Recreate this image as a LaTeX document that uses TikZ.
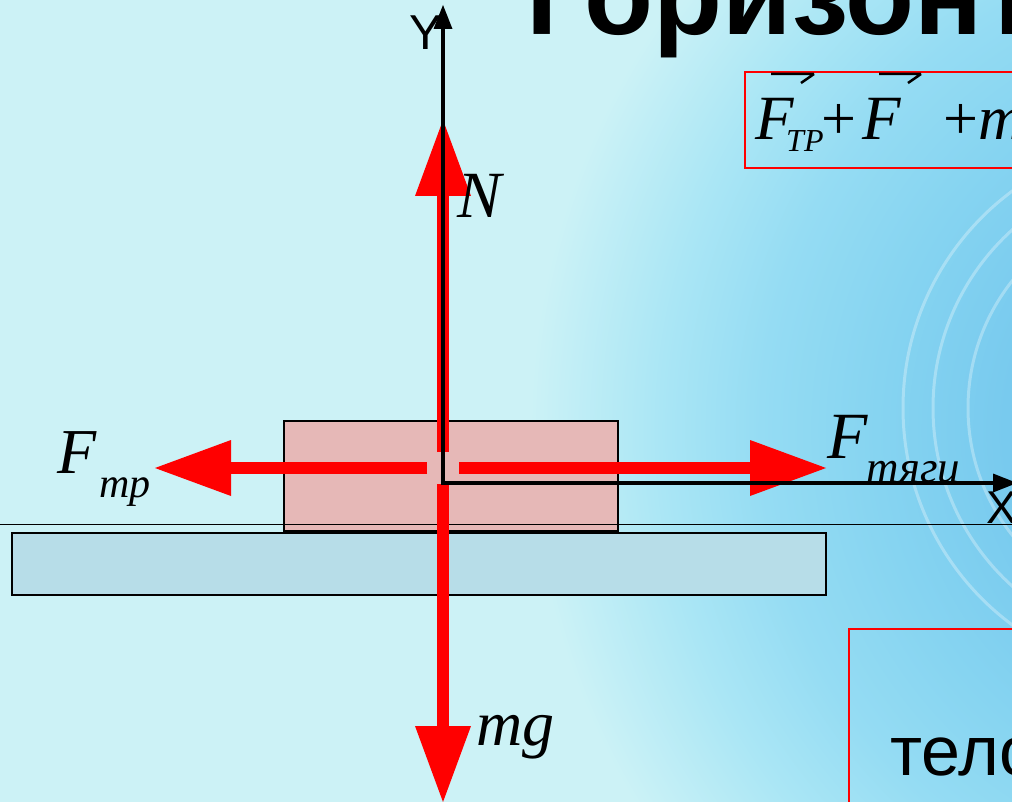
\documentclass[tikz,border=0pt]{standalone}
\usepackage{fontspec}
\setmainfont{Liberation Serif}
\newfontfamily\sansf{Liberation Sans}
\usetikzlibrary{arrows.meta}
\definecolor{bgbase}{HTML}{CCF2F6}
\definecolor{bgA}{HTML}{66BDE8}
\definecolor{bgB}{HTML}{78CAEE}
\definecolor{bgC}{HTML}{86D4F1}
\definecolor{bgD}{HTML}{95DCF3}
\definecolor{bgE}{HTML}{AAE6F5}
\definecolor{blockpink}{HTML}{E6B8B7}
\definecolor{slabblue}{HTML}{B7DDE8}
\pgfdeclareradialshading{blob}{\pgfpoint{0bp}{0bp}}{color(0bp)=(bgA); color(8.5bp)=(bgB); color(13bp)=(bgC); color(17bp)=(bgD); color(20.5bp)=(bgE); color(25bp)=(bgbase); color(50bp)=(bgbase)}
\tikzset{
  force/.style={draw=red, line width=12pt, -{Triangle[width=56pt,length=76pt,line width=0pt]}},
  axis/.style={draw=black, line width=4pt, line join=miter},
  lbl/.style={inner sep=0pt, anchor=base west, font=\fontsize{64}{64}\selectfont\itshape},
  sublbl/.style={inner sep=0pt, anchor=base west, font=\fontsize{42}{42}\selectfont\itshape},
  sanslbl/.style={inner sep=0pt, anchor=base west, font=\sansf\fontsize{49}{49}\selectfont},
  redbox/.style={draw=red, line width=2pt},
  body/.style={draw=black, line width=2pt}
}
\begin{document}
\begin{tikzpicture}[x=1pt,y=-1pt]
\useasboundingbox (0,0) rectangle (1012,802);
\begin{scope}
\clip (0,0) rectangle (1012,802);
% background
\fill[bgbase] (0,0) rectangle (1012,802);
\shade[shading=blob] (1250,430) circle[radius=720pt];
\foreach \r in {270,240,205}
  \draw[white, opacity=0.3, line width=3pt] (1173,408) circle[radius=\r pt];
% title
\node[inner sep=0pt, anchor=base west, font=\sansf\bfseries\fontsize{113}{113}\selectfont] (title) at (526,35) {Горизонт};
% formula box
\draw[redbox] (745,72) rectangle (1040,168);
\node[lbl, font=\fontsize{63}{63}\selectfont\itshape] (f1) at (755,140) {F};
\node[inner sep=0pt, anchor=base west, font=\fontsize{32}{32}\selectfont\itshape] (f1s) at (786,152) {ТР};
\node[inner sep=0pt, anchor=base west, font=\fontsize{62}{62}\selectfont] (p1) at (821,140) {+};
\node[lbl, font=\fontsize{63}{63}\selectfont\itshape] (f2) at (862,140) {F};
\node[inner sep=0pt, anchor=base west, font=\fontsize{62}{62}\selectfont] (p2) at (943,140) {+};
\node[lbl, font=\fontsize{63}{63}\selectfont\itshape] (m1) at (978,140) {m};
\draw[line width=2.5pt] (771,74) -- (814,74) (801,83) -- (814,74);
\draw[line width=2.5pt] (879,74) -- (921,74) (908,83) -- (921,74);
% bottom box
\draw[redbox] (849,629) rectangle (1040,830);
\node[inner sep=0pt, anchor=base west, font=\sansf\fontsize{70}{70}\selectfont] (telo) at (890,775) {тело};
% block and slab
\draw[body, fill=blockpink] (284,421) rectangle (618,531);
\draw[body, fill=slabblue] (12,533) rectangle (826,595);
\coordinate (gl) at (0,524);
\coordinate (gr) at (1012,524);
\draw[line width=1pt] (gl) -- (gr);
% forces
\coordinate (Nstart) at (443,452);
\coordinate (Ntip) at (443,120);
\coordinate (Lstart) at (427,468);
\coordinate (Ltip) at (155,468);
\coordinate (Rstart) at (459,468);
\coordinate (Rtip) at (826,468);
\coordinate (Dstart) at (443,484);
\coordinate (Dtip) at (443,802);
\draw[force] (Nstart) -- (Ntip);
\draw[force] (Lstart) -- (Ltip);
\draw[force] (Rstart) -- (Rtip);
\draw[force] (Dstart) -- (Dtip);
% axes
\coordinate (O) at (443,483);
\coordinate (Ytip) at (443,5);
\coordinate (Xtip) at (1017,483);
\draw[axis, {Triangle[width=19pt,length=24pt,line width=0pt]}-{Triangle[width=19pt,length=24pt,line width=0pt]}] (Ytip) -- (O) -- (Xtip);
\node[sanslbl] (ylab) at (409,50) {Y};
\node[sanslbl, font=\sansf\fontsize{46}{46}\selectfont] (xlab) at (986,523) {X};
% labels
\node[lbl] (Ftr) at (57,473) {F};
\node[sublbl] (Ftrs) at (99,497) {тр};
\node[lbl, font=\fontsize{66}{66}\selectfont\itshape] (Nlab) at (457,218) {N};
\node[lbl] (mglab) at (476,745) {mg};
\node[lbl, font=\fontsize{66}{66}\selectfont\itshape] (Fty) at (827,458) {F};
\node[sublbl, font=\fontsize{45}{45}\selectfont\itshape] (Ftys) at (866,482) {тяги};
\end{scope}
\end{tikzpicture}
\end{document}
